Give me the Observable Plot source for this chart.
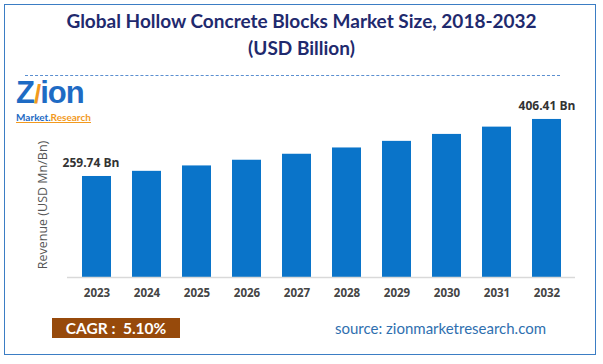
<!DOCTYPE html>
<html>
<head>
<meta charset="utf-8">
<script src="https://cdn.jsdelivr.net/npm/d3@7"></script>
<script src="https://cdn.jsdelivr.net/npm/@observablehq/plot@0.6"></script>
<style>
  html, body { margin: 0; padding: 0; background: #fff; }
  #wrap { position: relative; width: 603px; height: 364px; overflow: hidden; font-family: Lato, "Open Sans", sans-serif; }
  #frame { position: absolute; left: 4px; top: 4px; width: 592px; height: 351px; border: 1.5px solid #3B7DC4; box-sizing: border-box; }
  .abs { position: absolute; white-space: nowrap; }
  #title1 { left: 0; width: 603px; top: 9px; text-align: center; font-size: 19px; font-weight: bold; color: #1F2A6E; }
  #title2 { left: 0; width: 603px; top: 36px; text-align: center; font-size: 19px; font-weight: bold; color: #1F2A6E; }
  #dash { left: 25px; top: 75px; width: 535px; border-top: 1px dashed #5B8FD0; }
  #logo1 { left: 16px; top: 79px; height: 28px; line-height: 28px; font-size: 31px; font-weight: 900; color: #1E6BC4; letter-spacing: -1px; font-family: "Liberation Sans", Arial, sans-serif; }
  #logo2 { left: 16px; top: 112px; height: 10px; font-size: 10px; font-weight: bold; color: #1E6BC4; border-bottom: 1px solid #F29A1E; line-height: 10px; }
  #ylab { left: 42px; top: 205px; transform: translate(-50%, -50%) rotate(-90deg); font-size: 12.5px; color: #555; font-family: "Open Sans", sans-serif; }
  #cagr { left: 52px; top: 318px; width: 128px; height: 20px; background: #974A0B; color: #fff; font-size: 15.5px; font-weight: bold; line-height: 20px; text-align: center; }
  #src { left: 335px; top: 319px; font-size: 15px; color: #2F6FAF; }
  #chart { position: absolute; left: 0; top: 0; }
  rect.bar { filter: drop-shadow(3px 1px 2px rgba(0,0,0,0.35)); }
</style>
</head>
<body>
<div id="wrap">
  <div id="chart"></div>
  <div id="frame"></div>
  <div class="abs" id="title1">Global Hollow Concrete Blocks Market Size, 2018-2032</div>
  <div class="abs" id="title2">(USD Billion)</div>
  <div class="abs" id="dash"></div>
  <div class="abs" id="logo1"><span style="color:#1E6BC4">Z</span><span style="color:#F29A1E;font-size:26px">/</span>ion</div>
  <div class="abs" id="logo2">Market.<span style="color:#F29A1E">Research</span></div>
  <div class="abs" id="ylab">Revenue (USD Mn/Bn)</div>
  <div class="abs" id="cagr">CAGR :&nbsp; 5.10%</div>
  <div class="abs" id="src">source: zionmarketresearch.com</div>
</div>
<script>
const years = ["2023","2024","2025","2026","2027","2028","2029","2030","2031","2032"];
const revenue = [259.74, 272.99, 286.91, 301.54, 316.92, 333.09, 350.07, 367.93, 386.69, 406.41];
const labelIdx = [0, 9];

const data = years.map((y, i) => ({year: y, value: revenue[i]}));
const labels = labelIdx.map(i => ({year: years[i], value: revenue[i], first: i === 0}));

const chart = Plot.plot({
  width: 603,
  height: 364,
  marginLeft: 67,
  marginRight: 28,
  marginTop: 102,
  marginBottom: 87,
  style: { background: "transparent", fontFamily: "'Open Sans', sans-serif" },
  x: { domain: years, paddingInner: 0.42, paddingOuter: 0.22, label: null },
  y: { domain: [0, 450], axis: null },
  marks: [
    Plot.barY(data, { x: "year", y: "value", fill: "#0A74C9", className: "bar" }),
    Plot.ruleY([0], { stroke: "#d9d9d9", strokeWidth: 1.5 }),
    Plot.axisX({ tickSize: 0, tickPadding: 11, fontSize: 11.5, fontWeight: "bold", color: "#444", label: null }),
    Plot.text(labels.filter(d => d.first), { x: "year", y: "value", text: d => `${d.value} Bn`, dy: -13, dx: -6, fontSize: 12, fontWeight: "bold", fill: "#333" }),
    Plot.text(labels.filter(d => !d.first), { x: "year", y: "value", text: d => `${d.value} Bn`, dy: -13, fontSize: 12, fontWeight: "bold", fill: "#333" })
  ]
});
document.getElementById("chart").appendChild(chart);
</script>
</body>
</html>
